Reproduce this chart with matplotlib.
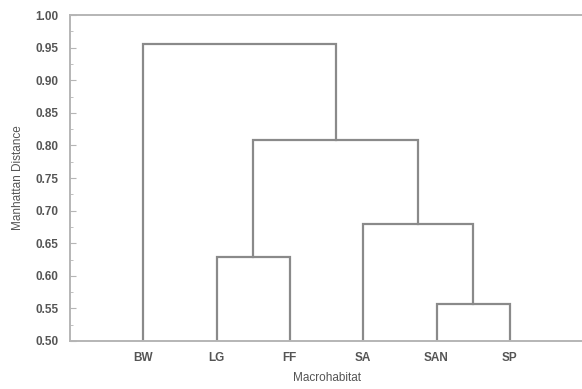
import matplotlib
matplotlib.use("Agg")
import matplotlib.pyplot as plt
from matplotlib.ticker import MultipleLocator

plt.rcParams["font.family"] = ["Liberation Sans", "DejaVu Sans"]

# leaves in dendrogram order
leaves = ["BW", "LG", "FF", "SA", "SAN", "SP"]

# merges: (left child, right child, height); children are leaf names or earlier merge ids
merge_left = ["SAN", "LG", "SA", "m1", "BW"]
merge_right = ["SP", "FF", "m0", "m2", "m3"]
merge_height = [0.556, 0.629, 0.679, 0.808, 0.955]

_LINE = "#8a8a8a"
_SPINE = "#b5b5b5"
_TEXT = "#555555"

fig = plt.figure(figsize=(5.82, 3.89), dpi=100)
ax = fig.add_axes([0.120, 0.1234, 0.882, 0.838])

pos = {name: i + 1 for i, name in enumerate(leaves)}
hgt = {name: 0.5 for name in leaves}

for k, (a, b, h) in enumerate(zip(merge_left, merge_right, merge_height)):
    xa, xb = pos[a], pos[b]
    ax.plot([xa, xa, xb, xb], [hgt[a], h, h, hgt[b]],
            color=_LINE, linewidth=1.6, solid_joinstyle="miter")
    pos[f"m{k}"] = (xa + xb) / 2
    hgt[f"m{k}"] = h

ax.set_xlim(0, len(leaves) + 1)
ax.set_ylim(0.50, 1.00)
ax.set_xticks(range(1, len(leaves) + 1))
ax.set_xticklabels(leaves)
ax.yaxis.set_major_locator(MultipleLocator(0.05))
ax.yaxis.set_minor_locator(MultipleLocator(0.025))
ax.yaxis.set_major_formatter(matplotlib.ticker.FormatStrFormatter("%.2f"))

ax.tick_params(axis="x", length=0, pad=8, labelsize=8.5, labelcolor=_TEXT)
ax.tick_params(axis="y", which="major", direction="in", length=4,
               color=_SPINE, labelsize=8.5, labelcolor=_TEXT, pad=8)
ax.tick_params(axis="y", which="minor", direction="in", length=2, color=_SPINE)
for lbl in ax.get_xticklabels() + ax.get_yticklabels():
    lbl.set_fontweight("bold")

for spine in ax.spines.values():
    spine.set_color(_SPINE)
    spine.set_linewidth(1.4)

ax.set_xlabel("Macrohabitat", fontsize=8.5, color=_TEXT, labelpad=6)
ax.set_ylabel("Manhattan Distance", fontsize=8.5, color=_TEXT, labelpad=8)

fig.savefig("out.png", dpi=100, facecolor="white")
